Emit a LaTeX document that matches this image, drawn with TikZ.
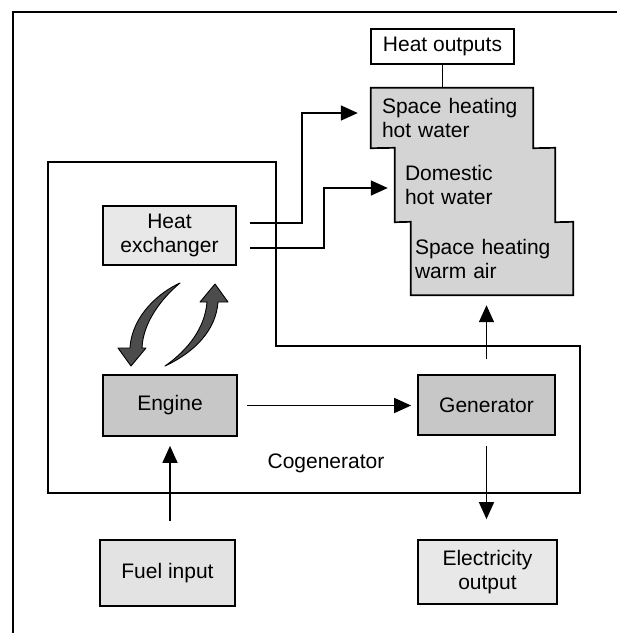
\documentclass[tikz,border=0pt]{standalone}
\usepackage{fontspec}
\setmainfont{Liberation Sans}
\usetikzlibrary{arrows.meta}
\begin{document}
\begin{tikzpicture}[x=1pt,y=-1pt,
  txt/.style={font=\fontsize{21}{24}\selectfont},
  pbox/.style={txt, draw, line width=1.7pt, inner sep=0pt, align=center},
  region/.style={txt, fill=black!17, inner ysep=0pt, align=left, minimum height=#1},
  outl/.style={line width=1.7pt, line join=miter},
  conn/.style={line width=1.5pt},
  arr/.style={conn, -{Triangle[length=17pt,width=15pt]}},
  curl/.style={fill=black!70, draw=black, line width=0.9pt, line join=round},
  rim/.style={line width=1.7pt}
]
\useasboundingbox (0,0) rectangle (617,633);
% outer frame (top and left only)
\draw[rim] (617,12) -- (13,12) -- (13,633);
% cogenerator enclosure
\draw[rim] (48,162) -- (276,162) -- (276,346) -- (580,346) -- (580,493) -- (48,493) -- cycle;
\node[txt] (cg) at (326,463) {Cogenerator};

% heat outputs
\node[pbox, fill=white, minimum width=143pt, minimum height=35pt] (ho) at (442.5,46.5) {Heat outputs};
\node[region=60pt, text width=140pt, inner xsep=11pt] (sh1) at (452,118) {Space heating\\hot water};
\node[region=74pt, text width=140pt, inner xsep=10pt] (sh2) at (475,185) {Domestic\\hot water};
\node[region=73pt, text width=154pt, inner xsep=4pt] (sh3) at (492,258.5) {Space heating\\warm air};
\draw[outl] (sh1.north west) -- (sh1.north east) -- (sh1.south east) -- (sh2.north east)
  -- (sh2.south east) -- (sh3.north east) -- (sh3.south east) -- (sh3.south west)
  -- (sh3.north west) -- (sh2.south west) -- (sh2.north west) -- (sh1.south west) -- cycle;
\draw[conn] (ho.south) -- (ho.south |- sh1.north);

% blocks
\node[pbox, fill=black!9, minimum width=133pt, minimum height=59pt] (hx) at (169.5,235.5) {Heat\\exchanger};
\node[pbox, fill=black!22, minimum width=134pt, minimum height=61pt] (eng) at (170,405.5) {Engine};
\node[pbox, fill=black!22, minimum width=137pt, minimum height=60pt] (gen) at (486.5,405) {Generator};
\node[pbox, fill=black!11, minimum width=135pt, minimum height=66pt] (fuel) at (167.5,573) {Fuel input};
\node[pbox, fill=black!9, minimum width=139pt, minimum height=64pt] (elec) at (487.5,572) {Electricity\\output};

% connectors
\draw[arr, shorten <=13pt] ([yshift=12.5pt]hx.east) -- ++(65,0) |- ([xshift=-13pt,yshift=5pt]sh1.west);
\draw[arr, shorten <=13pt] ([yshift=-12.5pt]hx.east) -- ++(87,0) |- ([xshift=-7pt,yshift=-3pt]sh2.west);
\draw[arr, shorten <=9pt, shorten >=6pt] (eng.east) -- (eng.east -| gen.west);
\draw[arr, shorten <=15pt, shorten >=10pt] (gen.north) -- (gen.north |- sh3.south);
\draw[arr, shorten <=10pt, shorten >=20pt] (gen.south) -- (gen.south |- elec.north);
\draw[arr, shorten <=18pt, shorten >=9pt] (eng.south |- fuel.north) -- (eng.south);

% curved exchange arrows
\draw[curl] (180,283) .. controls (160,292) and (132,315) .. (130,348)
  -- (118,348) -- (131,366) -- (146,348) -- (142,348)
  .. controls (143,322) and (162,298) .. (180,283) -- cycle;
\draw[curl] (165,366) .. controls (195,352) and (216,330) .. (218,302)
  -- (228,302) -- (215,284) -- (200,302) -- (207,302)
  .. controls (205,328) and (188,350) .. (165,366) -- cycle;
\end{tikzpicture}
\end{document}
